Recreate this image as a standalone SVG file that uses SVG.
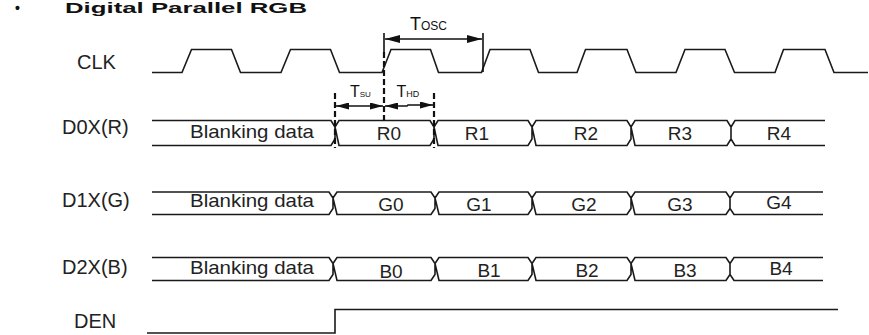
<svg xmlns="http://www.w3.org/2000/svg" width="869" height="335" viewBox="0 0 869 335">
<defs>
<style>
.lbl{font-family:"Liberation Sans",Arial,sans-serif;font-size:20px;fill:#222}
.dat{font-family:"Liberation Sans",Arial,sans-serif;font-size:19px;fill:#222;text-anchor:middle}
.blk{font-family:"Liberation Sans",Arial,sans-serif;font-size:19px;fill:#222}
.tt{font-family:"Liberation Sans",Arial,sans-serif;fill:#111}
.ttl{font-family:"Liberation Sans",Arial,sans-serif;font-size:14px;font-weight:bold;fill:#111}
.wave{fill:none;stroke:#1a1a1a;stroke-width:1.6;stroke-linejoin:miter}
.dim{fill:none;stroke:#111;stroke-width:1.6}
.dash{fill:none;stroke:#111;stroke-width:2.2;stroke-dasharray:6 3}
</style>
<marker id="ahL" viewBox="0 0 15 8" markerWidth="15" markerHeight="8" refX="15" refY="4" orient="auto-start-reverse" markerUnits="userSpaceOnUse">
<path d="M0,0 L15,4 L0,8 Z" fill="#111"/>
</marker>
<marker id="ahS" viewBox="0 0 13 7" markerWidth="13" markerHeight="7" refX="13" refY="3.5" orient="auto-start-reverse" markerUnits="userSpaceOnUse">
<path d="M0,0 L13,3.5 L0,7 Z" fill="#111"/>
</marker>
</defs>
<rect width="869" height="335" fill="#fff"/>

<g id="title">
<text class="ttl" x="15" y="13">•</text>
<text class="ttl" x="65" y="13" textLength="242" lengthAdjust="spacingAndGlyphs">Digital Parallel RGB</text>
</g>

<g id="clk">
<text class="lbl" x="77" y="69">CLK</text>
<path class="wave" d="M152,72.5 H182 L191.5,49.5 H231.5 L240.5,72.5 H281 L290.5,49.5 H330.5 L339.5,72.5 H382 L391,49.5 H430.5 L438.5,72.5 H481.5 L490,49.5 H530 L538.5,72.5 H577 L585.5,49.5 H627 L636,72.5 H676 L685,49.5 H725 L734.5,72.5 H775 L783.5,49.5 H825 L834,72.5 H868"/>
</g>

<g id="d0x">
<text class="lbl" x="62" y="134">D0X(R)</text>
<path class="wave" d="M152,120.5 H331 L335,127 V139 L331,145.5 H152 M335,127 L339,120.5 H430 L434,127 V139 L430,145.5 H339 Z M434,127 L438,120.5 H528 L532,127 V139 L528,145.5 H438 Z M532,127 L536,120.5 H627 L631,127 V139 L627,145.5 H536 Z M631,127 L635,120.5 H727 L731,127 V139 L727,145.5 H635 Z M825,120.5 H735 L731,127 V139 L735,145.5 H825"/>
<text class="blk" x="190" y="138" textLength="124" lengthAdjust="spacingAndGlyphs">Blanking data</text>
<text class="dat" x="389" y="139.5">R0</text>
<text class="dat" x="477" y="139.5">R1</text>
<text class="dat" x="586" y="139.5">R2</text>
<text class="dat" x="680" y="139.5">R3</text>
<text class="dat" x="779" y="139.5">R4</text>
</g>

<g id="d1x">
<text class="lbl" x="62" y="207">D1X(G)</text>
<path class="wave" d="M152,192 H329 L333,198 V208.5 L329,214.5 H152 M333,198 L337,192 H431 L435,198 V208.5 L431,214.5 H337 Z M435,198 L439,192 H528 L532,198 V208.5 L528,214.5 H439 Z M532,198 L536,192 H627 L631,198 V208.5 L627,214.5 H536 Z M631,198 L635,192 H726 L730,198 V208.5 L726,214.5 H635 Z M823,192 H734 L730,198 V208.5 L734,214.5 H823"/>
<text class="blk" x="190" y="207" textLength="124" lengthAdjust="spacingAndGlyphs">Blanking data</text>
<text class="dat" x="391" y="211">G0</text>
<text class="dat" x="479" y="211">G1</text>
<text class="dat" x="584" y="211">G2</text>
<text class="dat" x="680" y="211">G3</text>
<text class="dat" x="779" y="209">G4</text>
</g>

<g id="d2x">
<text class="lbl" x="62" y="274">D2X(B)</text>
<path class="wave" d="M152,257.5 H329 L333,263.5 V274.5 L329,280.5 H152 M333,263.5 L337,257.5 H431 L435,263.5 V274.5 L431,280.5 H337 Z M435,263.5 L439,257.5 H528 L532,263.5 V274.5 L528,280.5 H439 Z M532,263.5 L536,257.5 H627 L631,263.5 V274.5 L627,280.5 H536 Z M631,263.5 L635,257.5 H726 L730,263.5 V274.5 L726,280.5 H635 Z M823,257.5 H734 L730,263.5 V274.5 L734,280.5 H823"/>
<text class="blk" x="190" y="274" textLength="124" lengthAdjust="spacingAndGlyphs">Blanking data</text>
<text class="dat" x="391" y="277.5">B0</text>
<text class="dat" x="489" y="277">B1</text>
<text class="dat" x="587" y="277">B2</text>
<text class="dat" x="685" y="277">B3</text>
<text class="dat" x="781" y="275">B4</text>
</g>

<g id="den">
<text class="lbl" x="74" y="328">DEN</text>
<path class="wave" d="M147,333 H335 V309.5 H838"/>
</g>

<g id="connectors">
<line class="dim" x1="384" y1="33" x2="384" y2="52"/>
<line class="dim" x1="483" y1="33" x2="483" y2="72"/>
<line class="dash" x1="384" y1="52" x2="384" y2="122"/>
<line class="dash" x1="335" y1="93" x2="335" y2="148"/>
<line class="dash" x1="434" y1="93" x2="434" y2="148"/>
<line class="dim" x1="385" y1="39" x2="482" y2="39" marker-start="url(#ahL)" marker-end="url(#ahL)"/>
<line class="dim" x1="336" y1="106" x2="383" y2="106" marker-start="url(#ahS)" marker-end="url(#ahS)"/>
<polyline class="dim" points="385,106 407,106 408,105 433,105" marker-start="url(#ahS)" marker-end="url(#ahS)"/>
</g>

<g id="timing-labels">
<text class="tt" x="410" y="30"><tspan style="font-size:18px">T</tspan><tspan style="font-size:12px">OSC</tspan></text>
<text class="tt" x="350" y="96.5"><tspan style="font-size:16px">T</tspan><tspan style="font-size:8px">SU</tspan></text>
<text class="tt" x="396.5" y="96.5"><tspan style="font-size:16px">T</tspan><tspan style="font-size:9px">HD</tspan></text>
</g>
</svg>
